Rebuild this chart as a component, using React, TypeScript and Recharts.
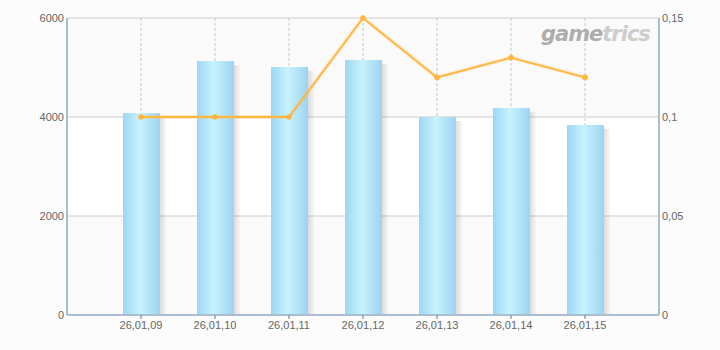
import { ComposedChart, Bar, Line, XAxis, YAxis, CartesianGrid } from "recharts";

const dates = ["26,01,09", "26,01,10", "26,01,11", "26,01,12", "26,01,13", "26,01,14", "26,01,15"];
const counts = [4080, 5130, 5010, 5150, 4000, 4180, 3840];
const rates = [0.1, 0.1, 0.1, 0.15, 0.12, 0.13, 0.12];
const leftTicks = [0, 2000, 4000, 6000];
const rightTicks = [0, 0.05, 0.1, 0.15];

const data = dates.map((name, i) => ({ name, count: counts[i], rate: rates[i] }));

const borderColor = "#aabdd2";
const tickStyle = { fill: "#666", fontSize: 11, fontFamily: "'Liberation Sans', Arial, sans-serif" };

// bar with a soft shadow on its right side
const ShadowBar = (props: any) => {
  const { x, y, width, height } = props;
  if (!height || height <= 0) return null;
  return (
    <g>
      <rect x={x + width} y={y + 4} width={7} height={height - 4} fill="url(#barShadow)" />
      <rect x={x} y={y} width={width} height={height} fill="url(#barFill)" />
    </g>
  );
};

export default function App() {
  return (
    <div style={{ position: "absolute", left: 0, top: 0, width: 720, height: 350, background: "#fcfcfc" }}>
      <ComposedChart width={720} height={350} data={data} margin={{ top: 18, right: 0, bottom: 0, left: 0 }}>
        <defs>
          <linearGradient id="barFill" x1="0" y1="0" x2="1" y2="0">
            <stop offset="0%" stopColor="#9cd6f3" />
            <stop offset="45%" stopColor="#c8f2fd" />
            <stop offset="100%" stopColor="#9dd3f0" />
          </linearGradient>
          <linearGradient id="barShadow" x1="0" y1="0" x2="1" y2="0">
            <stop offset="0%" stopColor="#000" stopOpacity={0.13} />
            <stop offset="100%" stopColor="#000" stopOpacity={0} />
          </linearGradient>
        </defs>
        <CartesianGrid yAxisId="left" vertical={false} stroke="#cccccc" horizontalFill={["#fafafa", "#ffffff"]} />
        <CartesianGrid yAxisId="left" horizontal={false} stroke="#c8c8c8" strokeDasharray="3 2" />
        <XAxis
          dataKey="name"
          height={35}
          padding={{ left: 37, right: 37 }}
          tick={tickStyle}
          tickSize={4}
          tickMargin={2}
          tickLine={{ stroke: "#777" }}
          axisLine={{ stroke: borderColor, strokeWidth: 2 }}
        />
        <XAxis
          xAxisId="top"
          orientation="top"
          dataKey="name"
          height={0}
          tick={false}
          tickLine={false}
          axisLine={{ stroke: borderColor, strokeWidth: 2 }}
        />
        <YAxis
          yAxisId="left"
          width={67}
          domain={[0, 6000]}
          ticks={leftTicks}
          tick={tickStyle}
          tickSize={0}
          tickMargin={3}
          axisLine={{ stroke: borderColor, strokeWidth: 2 }}
        />
        <YAxis
          yAxisId="right"
          orientation="right"
          width={61}
          domain={[0, 0.15]}
          ticks={rightTicks}
          tick={tickStyle}
          tickSize={0}
          tickMargin={3}
          tickFormatter={(v: number) => String(v).replace(".", ",")}
          axisLine={{ stroke: borderColor, strokeWidth: 2 }}
        />
        <Bar yAxisId="left" dataKey="count" barSize={37} shape={ShadowBar} isAnimationActive={false} />
        <Line
          yAxisId="right"
          dataKey="rate"
          type="linear"
          stroke="#ffb640"
          strokeOpacity={0.25}
          strokeWidth={4}
          dot={false}
          activeDot={false}
          isAnimationActive={false}
        />
        <Line
          yAxisId="right"
          dataKey="rate"
          type="linear"
          stroke="#ffb640"
          strokeWidth={1.8}
          dot={{ r: 2.8, fill: "#ffb640", stroke: "none" }}
          isAnimationActive={false}
        />
      </ComposedChart>
      <div
        style={{
          position: "absolute",
          left: 541,
          top: 21,
          fontFamily: "'DejaVu Sans', sans-serif",
          fontWeight: "bold",
          fontStyle: "italic",
          fontSize: 21,
          letterSpacing: -1,
          lineHeight: "26px",
        }}
      >
        <span style={{ color: "#adadad" }}>game</span>
        <span style={{ color: "#cdcdcd" }}>trics</span>
      </div>
    </div>
  );
}
